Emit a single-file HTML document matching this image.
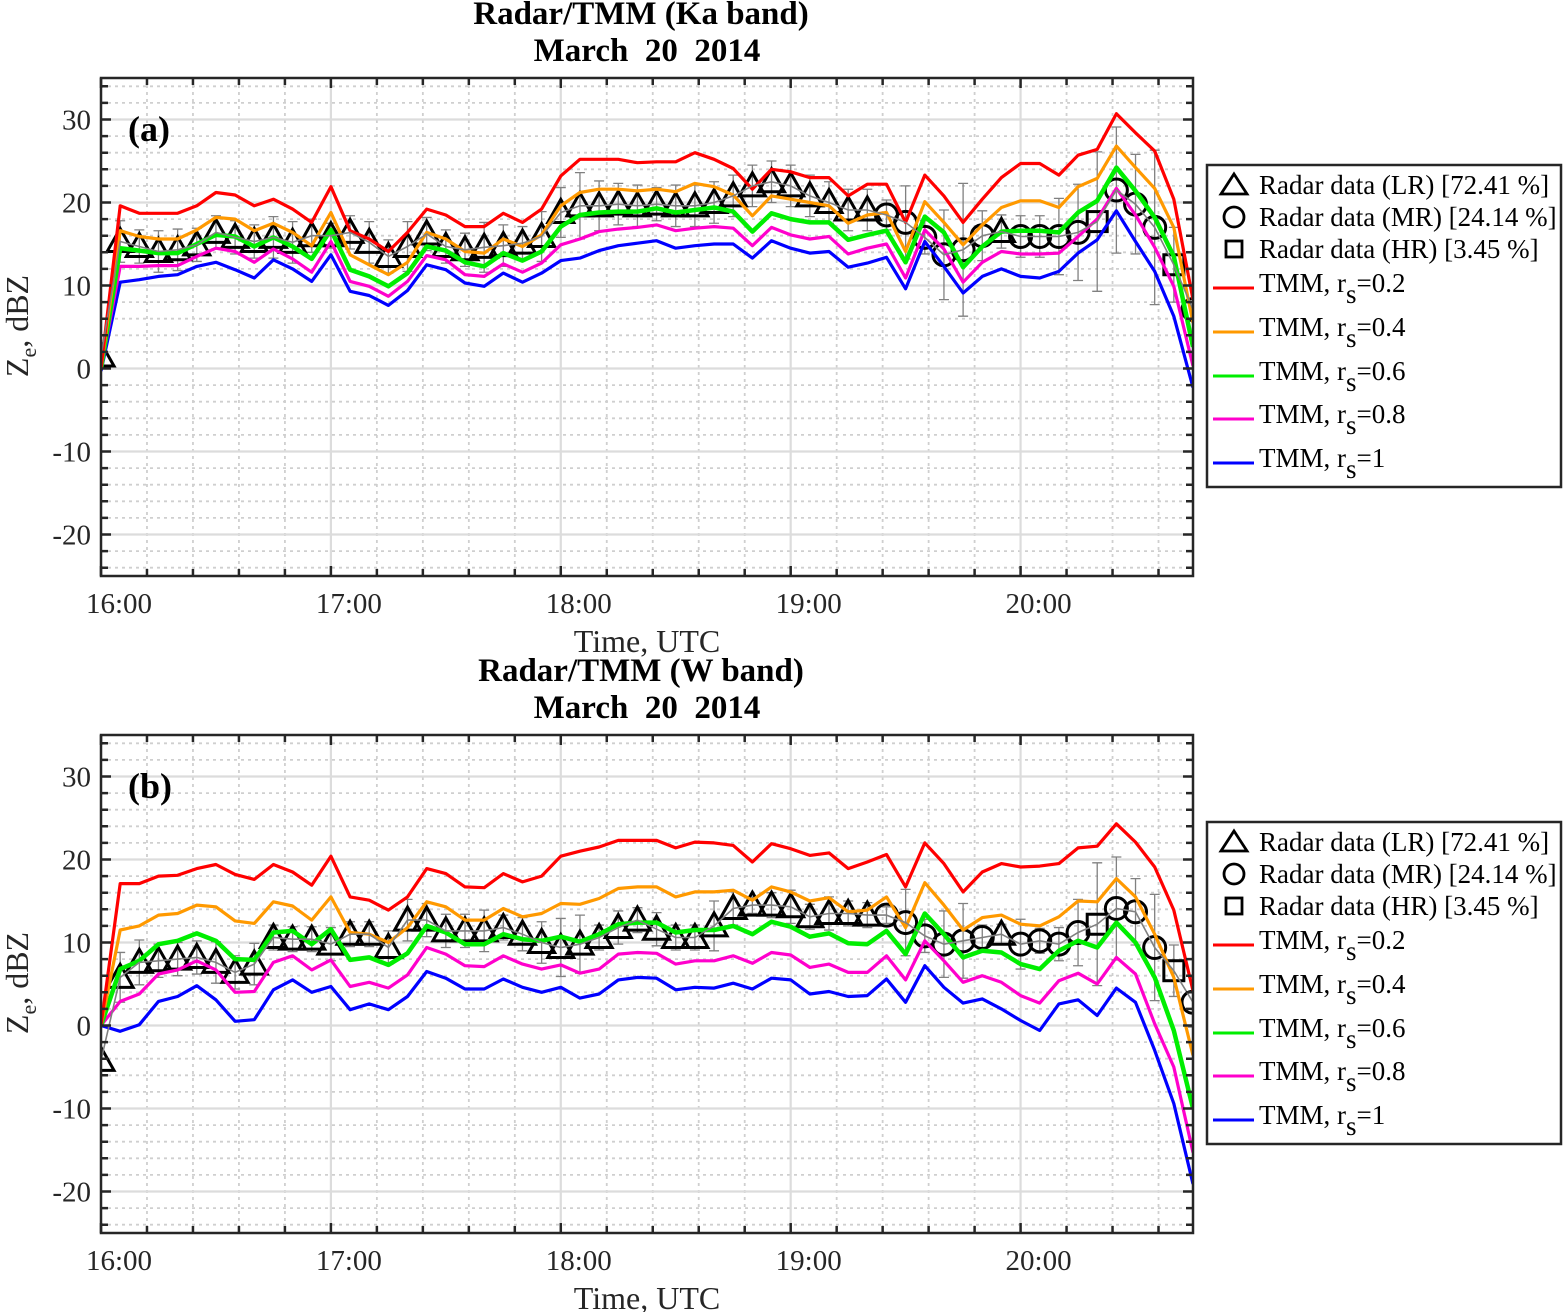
<!DOCTYPE html>
<html><head><meta charset="utf-8"><style>
html,body{margin:0;padding:0;background:#fff;}
svg{display:block;font-family:"Liberation Serif",serif;}
.pre{white-space:pre;}
</style></head><body>
<svg id="fig" width="1563" height="1312" viewBox="0 0 1563 1312" xmlns="http://www.w3.org/2000/svg"></svg>
<script>
// ---- data (minutes after 16:00, 5-min step) ----
const times = [0,5,10,15,20,25,30,35,40,45,50,55,60,65,70,75,80,85,90,95,100,105,110,115,120,125,130,135,140,145,150,155,160,165,170,175,180,185,190,195,200,205,210,215,220,225,230,235,240,245,250,255,260,265,270,275,280,285];
const xTickMinutes = [0,60,120,180,240];
const xTickLabels = ["16:00","17:00","18:00","19:00","20:00"];
const yTickValues = [30,20,10,0,-10,-20];
const yTickLabels = ["30","20","10","0","-10","-20"];
const markerKind = ["T","T","T","T","T","T","T","T","T","T","T","T","T","T","T","T","T","T","T","T","T","T","T","T","T","T","T","T","T","T","T","T","T","T","T","T","T","T","T","T","T","C","C","C","C","C","C","T","C","C","C","C","S","C","C","C","S","C"];

const kaRs02 = [0,19.6,18.7,18.7,18.7,19.6,21.2,20.9,19.6,20.4,19.2,17.6,21.9,16.6,15.6,14.1,16.4,19.2,18.5,17.1, 17.1,18.7,17.6,19.2,23.2,25.2,25.2,25.2,24.8,24.9,24.9,26.0,25.2,24.1,21.6,24.0,23.7,23.0,23.0,20.8, 22.2,22.2,17.6,23.3,20.8,17.6,20.4,23.0,24.7,24.7,23.3,25.7,26.4,30.7,28.4,26.2,20.4,8.3];
const kaRs04 = [0,16.6,15.9,15.6,15.6,16.7,18.2,18.0,16.6,17.5,16.4,14.8,18.8,13.7,12.5,11.3,12.8,16.4,15.6,14.1, 13.9,15.6,14.7,16.1,19.6,21.2,21.6,21.6,21.4,21.6,21.3,22.3,21.9,20.9,18.4,20.8,20.4,20.0,19.6,17.5, 18.5,18.8,14.1,20.1,17.6,14.9,17.3,19.4,20.2,20.2,19.4,21.9,22.9,26.8,24.2,21.7,17.0,5.5];
const kaRs06 = [0,14.5,14.2,13.9,13.9,15.0,16.1,15.9,14.7,15.8,14.7,13.2,16.7,11.9,11.1,9.9,11.5,14.7,14.2,12.8, 12.3,13.9,13.0,14.1,17.1,18.5,18.8,18.9,18.9,19.3,18.8,19.1,19.4,18.9,16.5,18.7,18.0,17.6,17.6,15.5, 16.1,16.6,12.8,18.3,16.4,12.2,14.7,16.5,16.6,16.6,16.4,18.8,20.2,24.2,21.4,18.2,13.5,2.6];
const kaRs08 = [0,12.3,12.3,12.4,12.4,13.5,14.5,14.1,12.8,14.4,13.2,11.6,15.3,10.5,9.9,8.7,10.5,13.6,13.1,11.3, 11.1,12.6,11.6,12.7,14.9,15.6,16.5,16.8,17.0,17.3,16.6,16.9,17.1,16.9,14.8,17.0,16.1,15.6,15.9,13.8, 14.5,15.0,10.9,16.7,14.4,10.4,12.8,14.1,13.8,13.8,13.9,15.9,18.0,21.7,18.5,14.6,9.9,0.3];
const kaRs10 = [-0.3,10.4,10.7,11.1,11.3,12.3,12.8,11.9,10.9,13.1,12.0,10.5,13.7,9.3,8.8,7.6,9.4,12.5,11.9,10.3, 9.9,11.5,10.4,11.5,13.0,13.3,14.2,14.8,15.1,15.4,14.5,14.8,15.0,15.0,13.3,15.4,14.5,13.9,14.1,12.2, 12.7,13.4,9.6,15.3,12.3,9.1,11.1,12.0,11.1,10.9,11.7,13.9,15.5,19.0,15.3,11.7,6.3,-2.3];
const radarKa = [1.5,15.3,14.7,14.1,14.3,14.9,16.4,15.8,15.3,15.8,15.2,16.0,16.0,16.4,15.2,13.5,14.7,16.2,14.7,14.3, 14.6,14.8,15.1,15.9,18.8,19.6,19.6,19.8,19.6,19.8,19.6,19.6,20.0,20.8,22.0,22.5,22.0,20.8,20.0,19.1, 19.1,18.5,17.6,15.8,13.7,14.3,16.0,16.5,15.9,15.9,15.9,16.4,17.7,21.5,19.8,17.0,12.5,7.1];
const errKa = [0,2.5,2,2.5,2.5,2,2,2,2,2.5,2.5,2,1.5,2,2.5,2,3,2,2,2, 3,2.5,2,3,3,4,3,2.5,2.5,2,2.5,2.5,2.5,2.5,2.5,2.5,2.5,2.5,2.5,2.5, 2.5,1.8,4.4,2,5.4,8,3,2,2.5,2.5,4.6,5.8,8.4,7.6,6,9.3,4.5,0];

const wRs02 = [0,17.1,17.1,18.0,18.1,18.9,19.4,18.2,17.6,19.4,18.5,16.9,20.4,15.5,15.1,13.9,15.5,18.9,18.3,16.7, 16.6,18.3,17.3,18.0,20.4,21.0,21.5,22.3,22.3,22.3,21.4,22.1,22.0,21.7,19.7,21.9,21.3,20.5,20.8,18.9, 19.7,20.6,16.7,22.0,19.5,16.1,18.5,19.5,19.1,19.2,19.5,21.4,21.6,24.3,22.1,19.1,13.9,4.2];
const wRs04 = [0,11.5,12.0,13.3,13.5,14.5,14.3,12.6,12.3,14.9,14.4,12.7,15.5,11.2,11.0,10.0,11.8,14.9,14.3,12.7, 12.7,14.1,13.1,13.5,14.7,14.6,15.3,16.5,16.7,16.7,15.5,16.1,16.1,16.3,15.1,16.7,16.1,15.0,15.4,13.7, 13.9,15.5,11.8,17.2,14.5,11.5,13.0,13.3,12.2,12.0,13.1,15.0,14.9,17.7,15.5,11.0,5.8,-3.6];
const wRs06 = [0,6.8,7.8,9.8,10.2,11.1,10.2,8.0,7.9,11.2,11.4,9.8,11.6,7.9,8.2,7.3,8.7,12.0,11.2,9.8, 9.8,11.0,10.4,10.2,10.7,10.1,11.0,12.2,12.4,12.4,11.2,11.5,11.5,12.0,11.0,12.5,11.9,10.7,11.1,9.9, 9.8,11.4,8.6,13.5,11.0,8.2,9.0,8.8,7.4,6.8,9.0,10.2,9.4,12.4,10.0,5.8,-0.6,-10.0];
const wRs08 = [0,2.9,3.8,6.2,6.7,7.8,6.7,4.0,4.1,7.6,8.4,6.7,7.9,4.7,5.2,4.5,6.1,9.4,8.6,7.2, 7.1,8.4,7.4,6.8,7.3,6.3,6.8,8.6,8.8,8.7,7.4,7.8,7.8,8.4,7.5,8.8,8.5,7.0,7.4,6.4, 6.4,8.4,5.5,10.2,7.8,5.2,6.0,5.2,3.6,2.7,5.4,6.3,5.0,8.2,6.2,0.2,-5.0,-15.3];
const wRs10 = [0,-0.7,0.1,2.9,3.5,4.8,3.1,0.5,0.7,4.3,5.5,4.0,4.7,1.9,2.6,1.9,3.5,6.5,5.7,4.4, 4.4,5.6,4.6,4.0,4.6,3.3,3.8,5.5,5.8,5.7,4.3,4.6,4.5,5.1,4.4,5.7,5.5,3.8,4.1,3.5, 3.6,5.6,2.8,7.2,4.6,2.7,3.2,2.0,0.6,-0.6,2.6,3.1,1.2,4.5,2.8,-3.0,-9.4,-19.1];
const radarW = [-4.2,5.8,7.6,7.8,8.0,8.2,7.6,6.4,7.4,10.6,10.4,10.4,9.8,11.0,11.0,9.4,12.7,12.7,11.4,11.4, 11.4,11.8,11.0,10.0,9.4,9.8,10.6,11.8,12.7,11.6,10.6,10.6,12.0,14.1,14.5,14.5,14.3,13.1,13.5,13.5, 13.3,13.3,12.4,10.8,9.8,10.2,10.6,11.0,9.8,10.2,9.8,11.2,12.2,14.1,13.7,9.4,6.6,2.8];
const errW = [0,3,2.7,2,2,2,2.5,2,2.5,1.5,1.5,1.5,2,1.5,1.5,2,2.5,2,2,2, 2.5,1.5,2,2.5,3.5,3.5,1.5,2,1.5,2,1.5,1.5,3,2,1,1.5,2,1.5,2,1.5, 1.5,1,4,2,4,4.5,1.5,1.2,3,1.5,2,4,7.4,6.2,4,6.4,3.1,3];

const NS = "http://www.w3.org/2000/svg";
const svg = document.getElementById("fig");
function mk(tag, attrs, parent) {
  const e = document.createElementNS(NS, tag);
  for (const k in attrs) e.setAttribute(k, attrs[k]);
  (parent || svg).appendChild(e);
  return e;
}
const colors = ["#ff0000","#ff9900","#00ee00","#ff00cc","#0000ff"];
const widths = [3.2,3.2,4.5,3.2,3.2];

function drawPanel(off, title1, letter, lines, radar, err, tag) {
  const L = 101, R = 1193, T = 78 + off, B = 576 + off;
  const xMin = 0, xMax = 285, yMin = -25, yMax = 35;
  const xs = t => L + (t - xMin) / (xMax - xMin) * (R - L);
  const ys = v => T + (yMax - v) / (yMax - yMin) * (B - T);

  const g = mk("g", {});
  
  

  const t1 = mk("text", {x: 641, y: 24 + off, "text-anchor": "middle", "font-size": 33, "font-weight": "bold", fill: "#000"}, g);
  t1.textContent = title1;
  
  
  const t2 = mk("text", {x: 647, y: 61 + off, "text-anchor": "middle", "font-size": 33, "font-weight": "bold", fill: "#000", "class": "pre"}, g);
  t2.textContent = "March  20  2014";
  
  

  const grid = mk("g", {}, g);
  
  
  for (let m = 12; m < xMax; m += 12) {
    if (m % 60 === 0) continue;
    mk("line", {x1: xs(m), x2: xs(m), y1: T, y2: B, stroke: "#cfcfcf", "stroke-width": 1.8, "stroke-dasharray": "3,4"}, grid);
  }
  for (let v = -24; v <= 34; v += 2) {
    if (v % 10 === 0) continue;
    mk("line", {x1: L, x2: R, y1: ys(v), y2: ys(v), stroke: "#cfcfcf", "stroke-width": 1.8, "stroke-dasharray": "3,4"}, grid);
  }
  xTickMinutes.forEach(m => mk("line", {x1: xs(m), x2: xs(m), y1: T, y2: B, stroke: "#dcdcdc", "stroke-width": 2.2}, grid));
  yTickValues.forEach(v => mk("line", {x1: L, x2: R, y1: ys(v), y2: ys(v), stroke: "#dcdcdc", "stroke-width": 2.2}, grid));

  const clipId = "clip" + tag;
  const cp = mk("clipPath", {id: clipId}, g);
  mk("rect", {x: L, y: T, width: R - L, height: B - T}, cp);

  const plot = mk("g", {"clip-path": "url(#" + clipId + ")"}, g);
  
  

  times.forEach((t, i) => {
    if (!err[i]) return;
    const x = xs(t), y1 = ys(radar[i] - err[i]), y2 = ys(radar[i] + err[i]);
    const eb = mk("path", {d: `M${x},${y1}V${y2}M${x-5},${y1}H${x+5}M${x-5},${y2}H${x+5}`, stroke: "#808080", "stroke-width": 1.3, fill: "none"}, plot);
    
    
  });

  times.forEach((t, i) => {
    const x = xs(t), y = ys(radar[i]);
    let el;
    if (markerKind[i] === "T") el = mk("path", {d: `M${x},${y-13}L${x+13},${y+10}L${x-13},${y+10}Z`}, plot);
    else if (markerKind[i] === "C") el = mk("circle", {cx: x, cy: y, r: 11}, plot);
    else el = mk("rect", {x: x - 10, y: y - 10, width: 20, height: 20}, plot);
    el.setAttribute("fill", "none"); el.setAttribute("stroke", "#000"); el.setAttribute("stroke-width", 3);
    
    
  });

  for (let s = lines.length - 1; s >= 0; s--) {
    const d = times.map((t, i) => (i ? "L" : "M") + xs(t).toFixed(1) + "," + ys(lines[s][i]).toFixed(1)).join("");
    const p = mk("path", {d: d, stroke: colors[s], "stroke-width": widths[s], fill: "none", "stroke-linejoin": "round"}, plot);
    
    
  }

  const dm = times.map((t, i) => (i ? "L" : "M") + xs(t).toFixed(1) + "," + ys(radar[i]).toFixed(1)).join("");
  const gm = mk("path", {d: dm, stroke: "#808080", "stroke-width": 1.6, fill: "none"}, plot);
  
  

  const ax = mk("g", {}, g);
  
  
  let tp = "";
  for (let m = 0; m <= xMax; m += 12) {
    const len = (m % 60 === 0) ? 10 : 7;
    tp += `M${xs(m)},${B}v${-len}M${xs(m)},${T}v${len}`;
  }
  for (let v = -24; v <= 34; v += 2) {
    const len = (v % 10 === 0) ? 10 : 7;
    tp += `M${L},${ys(v)}h${len}M${R},${ys(v)}h${-len}`;
  }
  mk("path", {d: tp, stroke: "#262626", "stroke-width": 2.5, fill: "none"}, ax);
  mk("rect", {x: L, y: T, width: R - L, height: B - T, fill: "none", stroke: "#262626", "stroke-width": 2.5}, ax);

  xTickMinutes.forEach((m, i) => {
    const tx = mk("text", {x: xs(m) + 18, y: 613 + off, "text-anchor": "middle", "font-size": 29, fill: "#262626"}, ax);
    tx.textContent = xTickLabels[i];
    
    
  });
  yTickValues.forEach((v, i) => {
    const ty = mk("text", {x: 91, y: ys(v) + 10, "text-anchor": "end", "font-size": 29, fill: "#262626"}, ax);
    ty.textContent = yTickLabels[i];
    
    
  });

  const xl = mk("text", {x: 647, y: 652 + off, "text-anchor": "middle", "font-size": 32, fill: "#262626"}, g);
  xl.textContent = "Time, UTC";
  
  

  const yl = mk("text", {transform: `translate(28,${326 + off}) rotate(-90)`, "text-anchor": "middle", "font-size": 32, fill: "#262626"}, g);
  yl.innerHTML = 'Z<tspan dy="8" font-size="22">e</tspan><tspan dy="-8">, dBZ</tspan>';
  
  

  const lt = mk("text", {x: 128, y: 141 + off, "font-size": 36, "font-weight": "bold", fill: "#000"}, g);
  lt.textContent = letter;
  
  

  const lg = mk("g", {}, g);
  
  
  mk("rect", {x: 1207, y: 165 + off, width: 354, height: 322, fill: "#fff", stroke: "#262626", "stroke-width": 2.5}, lg);
  const mTxt = ["Radar data (LR) [72.41 %]", "Radar data (MR) [24.14 %]", "Radar data (HR) [3.45 %]"];
  const mY = [185, 217, 249];
  mTxt.forEach((s, k) => {
    const y = mY[k] + off, x = 1234;
    let el;
    if (k === 0) el = mk("path", {d: `M${x},${y-11}L${x+13},${y+9}L${x-13},${y+9}Z`}, lg);
    else if (k === 1) el = mk("circle", {cx: x, cy: y, r: 10}, lg);
    else el = mk("rect", {x: x - 8, y: y - 8, width: 16, height: 16}, lg);
    el.setAttribute("fill", "none"); el.setAttribute("stroke", "#000"); el.setAttribute("stroke-width", 2.8);
    
    
    const tx = mk("text", {x: 1259, y: y + 9, "font-size": 27, fill: "#000"}, lg);
    tx.textContent = s;
    
    
  });
  const lY = [288, 332, 376, 419, 463];
  const rsVals = ["0.2","0.4","0.6","0.8","1"];
  lY.forEach((yy, k) => {
    const y = yy + off;
    const ln = mk("line", {x1: 1213, x2: 1254, y1: y, y2: y, stroke: colors[k], "stroke-width": 3}, lg);
    
    
    const tx = mk("text", {x: 1259, y: y + 4, "font-size": 27, fill: "#000"}, lg);
    tx.innerHTML = 'TMM, r<tspan dy="11">s</tspan><tspan dy="-11">=' + rsVals[k] + '</tspan>';
    
    
  });
}

drawPanel(0, "Radar/TMM (Ka band)", "(a)", [kaRs02, kaRs04, kaRs06, kaRs08, kaRs10], radarKa, errKa, "a");
drawPanel(657, "Radar/TMM (W band)", "(b)", [wRs02, wRs04, wRs06, wRs08, wRs10], radarW, errW, "b");
</script>
</body></html>
